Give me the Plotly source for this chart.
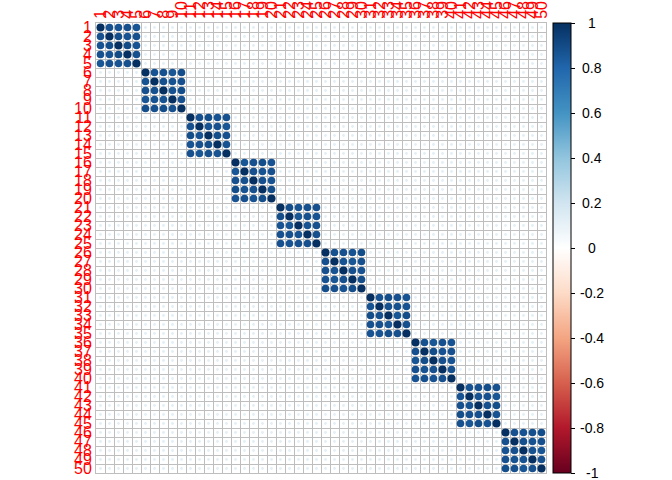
import numpy as np
import plotly.graph_objects as go

# ---- data ----
labels = [str(i) for i in range(1, 51)]
block_size = 5
# upper-triangle (off-diagonal) correlations inside each 5x5 block, row-wise
block_upper = [
    [0.88, 0.87, 0.88, 0.86, 0.89, 0.87, 0.88, 0.90, 0.87, 0.88],
    [0.87, 0.88, 0.86, 0.89, 0.88, 0.87, 0.88, 0.87, 0.89, 0.88],
    [0.88, 0.89, 0.87, 0.88, 0.87, 0.88, 0.86, 0.89, 0.88, 0.87],
    [0.86, 0.88, 0.89, 0.87, 0.88, 0.87, 0.88, 0.88, 0.87, 0.89],
    [0.89, 0.87, 0.88, 0.88, 0.86, 0.88, 0.87, 0.87, 0.88, 0.88],
    [0.88, 0.88, 0.87, 0.89, 0.87, 0.86, 0.88, 0.88, 0.87, 0.89],
    [0.87, 0.89, 0.88, 0.87, 0.88, 0.88, 0.87, 0.86, 0.89, 0.88],
    [0.88, 0.86, 0.88, 0.87, 0.89, 0.87, 0.88, 0.88, 0.87, 0.88],
    [0.87, 0.88, 0.89, 0.88, 0.87, 0.88, 0.86, 0.88, 0.89, 0.87],
    [0.88, 0.87, 0.88, 0.89, 0.88, 0.87, 0.88, 0.87, 0.86, 0.88],
]
off_block_r = 0.12
colorbar_ticks = [1, 0.8, 0.6, 0.4, 0.2, 0, -0.2, -0.4, -0.6, -0.8, -1]
corr_colors = ["#67001F", "#B2182B", "#D6604D", "#F4A582", "#FDDBC7", "#FFFFFF",
               "#D1E5F0", "#92C5DE", "#4393C3", "#2166AC", "#053061"]

# ---- build matrix ----
n = len(labels)
M = np.full((n, n), off_block_r)
iu = np.triu_indices(block_size, 1)
for b, vals in enumerate(block_upper):
    blk = np.eye(block_size)
    blk[iu] = vals
    blk = blk + np.triu(blk, 1).T
    s = b * block_size
    M[s:s + block_size, s:s + block_size] = blk

xs, ys, vs = [], [], []
for i in range(n):
    for j in range(n):
        xs.append(j + 1)
        ys.append(i + 1)
        vs.append(M[i, j])
vs = np.array(vs)

# plot geometry
L, R, T, B = 96, 126, 23, 7
W, H = 672, 480
pw = W - L - R
cell_px = pw / n
sizes = 0.9 * np.sqrt(np.abs(vs)) * cell_px

cscale = [[k / (len(corr_colors) - 1), c] for k, c in enumerate(corr_colors)]

fig = go.Figure()
fig.add_trace(go.Scatter(
    x=xs, y=ys, mode="markers",
    marker=dict(
        size=sizes, color=vs, colorscale=cscale, cmin=-1, cmax=1,
        line=dict(width=0), opacity=1,
        showscale=True,
        colorbar=dict(
            thickness=18, len=1, lenmode="fraction", y=0.5, yanchor="middle",
            x=1 + 7 / pw, xanchor="left", xpad=0, ypad=0,
            outlinecolor="black", outlinewidth=1,
            tickmode="array", tickvals=colorbar_ticks,
            ticks="outside", ticklen=4, tickcolor="black",
            showticklabels=False,
        ),
    ),
    hoverinfo="skip", showlegend=False,
))

for v in colorbar_ticks:
    fig.add_annotation(
        x=(592 - L) / pw, y=(v + 1) / 2, xref="paper", yref="paper",
        text=f"{v:g}", showarrow=False, xanchor="center", yanchor="middle",
        font=dict(family="Liberation Sans, Arial", size=14, color="black"),
    )

bounds = [k + 0.5 for k in range(n + 1)]
axis_common = dict(
    range=[0.5, n + 0.5], tickmode="array", tickvals=list(range(1, n + 1)),
    ticktext=labels, showgrid=False, zeroline=False, ticks="",
    tickfont=dict(family="Liberation Sans, Arial", size=16, color="red"),
    showline=True, mirror=True, linecolor="#BEBEBE", linewidth=1,
    automargin=False,
    minor=dict(tickvals=bounds, showgrid=True, gridcolor="#BEBEBE", gridwidth=1, ticks=""),
)
fig.update_xaxes(side="top", tickangle=-90, **axis_common)
fig.update_yaxes(autorange=False, **{**axis_common, "range": [n + 0.5, 0.5]})

fig.update_layout(
    width=W, height=H, margin=dict(l=L, r=R, t=T, b=B, pad=0, autoexpand=False),
    plot_bgcolor="white", paper_bgcolor="white",
)

fig.write_html("out.html")
